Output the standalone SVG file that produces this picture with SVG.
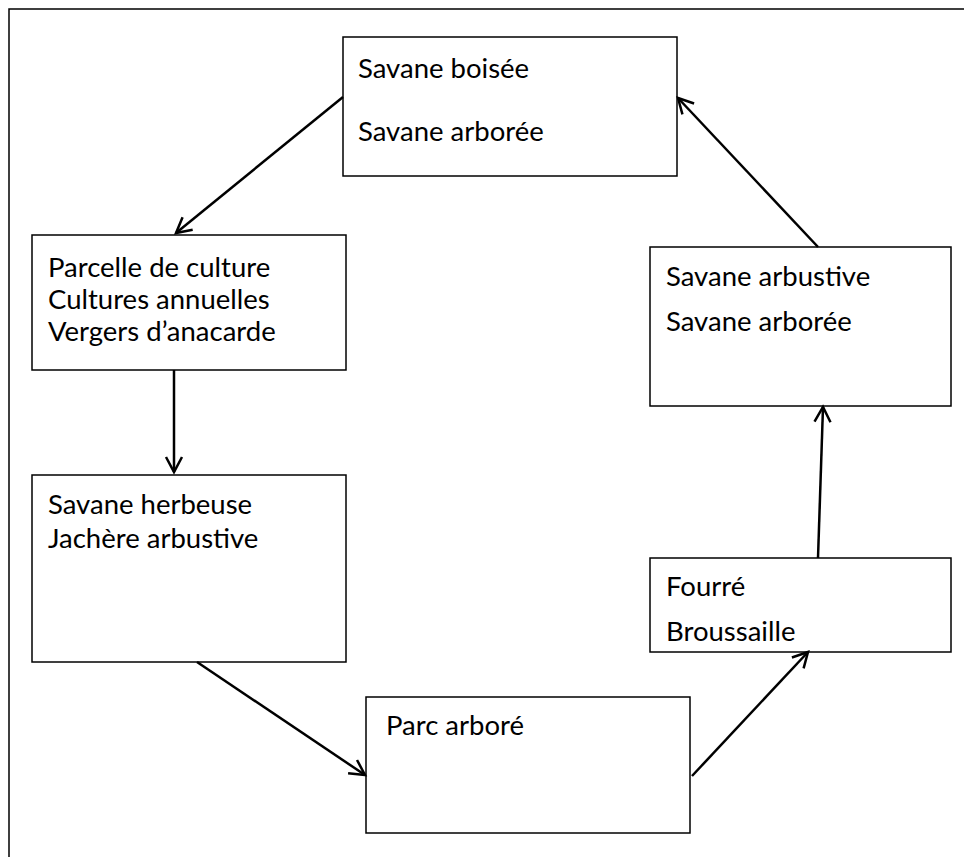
<svg xmlns="http://www.w3.org/2000/svg" width="964" height="857" viewBox="0 0 964 857">
<style>
.box{fill:#fff;stroke:#000;stroke-width:1.5}
.t{font-family:Lato,"Liberation Sans",sans-serif;font-size:27.5px;fill:#000}
.c{stroke:#000;stroke-width:2.5;fill:none;marker-end:url(#ah)}
</style>
<defs>
<marker id="ah" markerWidth="20" markerHeight="20" viewBox="-17 -10 20 20" refX="0" refY="0" orient="auto" markerUnits="userSpaceOnUse">
<polyline points="-15,-8 0,0 -15,8" fill="none" stroke="#000" stroke-width="2.5"/>
</marker>
</defs>
<rect width="964" height="857" fill="#fff"/>
<g id="frame"><path d="M9,857 V9 H964" fill="none" stroke="#000" stroke-width="1.5"/></g>
<g id="n1"><rect class="box" x="343" y="37" width="334" height="139"/><text class="t" x="358" y="78">Savane boisée</text><text class="t" x="358" y="141">Savane arborée</text></g>
<g id="n2"><rect class="box" x="32" y="235" width="314" height="135"/><text class="t" x="48" y="277">Parcelle de culture</text><text class="t" x="48" y="309">Cultures annuelles</text><text class="t" x="48" y="341">Vergers d’anacarde</text></g>
<g id="n3"><rect class="box" x="32" y="475" width="314" height="187"/><text class="t" x="48" y="514">Savane herbeuse</text><text class="t" x="48" y="548">Jachère arbustive</text></g>
<g id="n4"><rect class="box" x="366" y="697" width="324" height="136"/><text class="t" x="386" y="735">Parc arboré</text></g>
<g id="n5"><rect class="box" x="650" y="558" width="301" height="94"/><text class="t" x="666" y="596">Fourré</text><text class="t" x="666" y="641">Broussaille</text></g>
<g id="n6"><rect class="box" x="650" y="247" width="301" height="159"/><text class="t" x="666" y="286">Savane arbustive</text><text class="t" x="666" y="331">Savane arborée</text></g>
<g id="connectors">
<line class="c" x1="343" y1="97" x2="176" y2="233"/>
<line class="c" x1="174" y1="370" x2="174" y2="472"/>
<line class="c" x1="197" y1="662" x2="365" y2="775"/>
<line class="c" x1="692" y1="776" x2="808" y2="652"/>
<line class="c" x1="818" y1="558" x2="823" y2="407"/>
<line class="c" x1="818" y1="247" x2="678" y2="98"/>
</g>
</svg>
